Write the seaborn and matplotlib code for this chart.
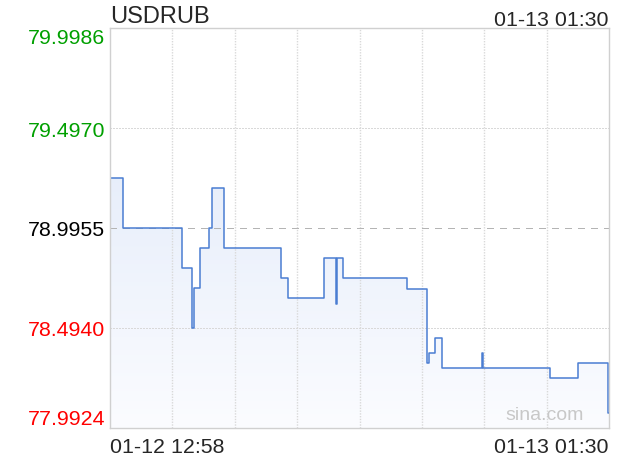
import numpy as np
import pandas as pd
import matplotlib
matplotlib.use("Agg")
import matplotlib.pyplot as plt
from matplotlib.colors import LinearSegmentedColormap
import seaborn as sns

# ---- data (minutes since 01-12 12:58, price) ----
minutes = [0, 20, 108, 123, 127, 136, 149, 154, 172, 257, 268, 322, 341, 342,
           351, 447, 478, 481, 490, 500, 560, 562, 663, 706, 750, 752]
prices = [79.2463, 78.9955, 78.7949, 78.4940, 78.6946, 78.8952, 78.9955, 79.1961,
          78.8952, 78.7450, 78.6444, 78.8450, 78.6158, 78.8450, 78.7447, 78.6896,
          78.3169, 78.3671, 78.4423, 78.2918, 78.3671, 78.2918, 78.2417, 78.3169,
          78.0676, 78.0676]
ytick_vals = [79.9986, 79.4970, 78.9955, 78.4940, 77.9924]
ytick_labels = ["79.9986", "79.4970", "78.9955", "78.4940", "77.9924"]
ytick_colors = ["#00a000", "#00a000", "#000000", "#ff0000", "#ff0000"]
x_labels = ["01-12 12:58", "01-13 01:30"]
x_span = [0, 752]
title = "USDRUB"
time_label = "01-13 01:30"

df = pd.DataFrame({"t": minutes, "p": prices})

sns.set_style("white")
plt.rcParams["font.family"] = ["Liberation Sans", "DejaVu Sans"]

W, H = 620, 460
fig = plt.figure(figsize=(W / 100, H / 100), dpi=100)
ax = fig.add_axes([110 / W, (H - 429) / H, 499 / W, 400 / H])

ymin, ymax = min(ytick_vals), max(ytick_vals)

# gradient fill under the line
poly = ax.fill_between(df["t"], df["p"], ymin, step="post", color="none", lw=0)
cmap = LinearSegmentedColormap.from_list("g", ["#fbfcff", "#dce6f8"])
grad = np.linspace(0, 1, 256).reshape(-1, 1)
im = ax.imshow(grad, cmap=cmap, aspect="auto", origin="lower",
               extent=[x_span[0], x_span[1], ymin, ymax], zorder=1)
im.set_clip_path(poly.get_paths()[0], transform=ax.transData)

sns.lineplot(data=df, x="t", y="p", ax=ax, drawstyle="steps-post",
             color="#4a7dd2", lw=1.1, estimator=None, zorder=3)

ax.set_xlim(x_span)
ax.set_ylim(ymin, ymax)
ax.set_xlabel("")
ax.set_ylabel("")

# y ticks
ax.set_yticks(ytick_vals)
ax.set_yticklabels(ytick_labels, fontsize=15.4)
for lab, c, v in zip(ax.get_yticklabels(), ytick_colors, ytick_vals):
    lab.set_color(c)
    if v == ymax:
        lab.set_va("top")
    elif v == ymin:
        lab.set_va("bottom")
ax.tick_params(axis="y", length=0, pad=3.6)

# x ticks
ax.set_xticks(x_span)
ax.set_xticklabels(x_labels, fontsize=15.4)
xl = ax.get_xticklabels()
xl[0].set_ha("left")
xl[1].set_ha("right")
ax.tick_params(axis="x", length=0, pad=6.5)
ax.set_xticks(np.linspace(x_span[0], x_span[1], 9)[1:-1], minor=True)
ax.tick_params(axis="x", which="minor", length=0)

# grid
ax.grid(False)
ax.grid(True, which="minor", axis="x", color="#d9d9d9", lw=1.0, ls=(0, (1, 1)))
ax.grid(True, which="major", axis="y", color="#d9d9d9", lw=1.0, ls=(0, (1, 1)))
ygl = ax.get_ygridlines()
ygl[2].set_linestyle((0, (5, 5)))
ygl[2].set_color("#b4b4b4")
for g in ax.get_xgridlines() + ygl:
    g.set_zorder(2)
    g.set_antialiased(False)
ax.set_axisbelow(False)

for s in ax.spines.values():
    s.set_color("#d0d0d0")
    s.set_linewidth(1.0)
    s.set_zorder(4)

fig.text(110 / W, 1 - 23.3 / H, title, fontsize=17, va="baseline", ha="left")
fig.text(608 / W, 1 - 26 / H, time_label, fontsize=15.4, va="baseline", ha="right")
fig.text(505 / W, 1 - 420 / H, "sina.com", fontsize=14, color="#c8c8c8",
         va="baseline", ha="left")

fig.savefig("out.png", dpi=100)
